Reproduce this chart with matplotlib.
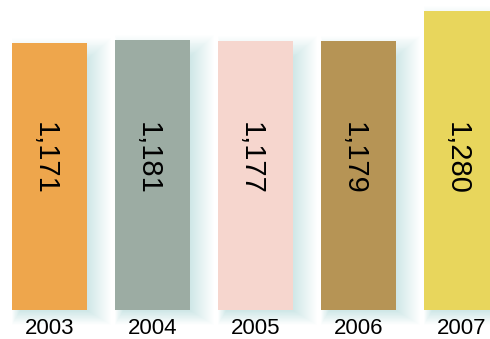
import matplotlib
matplotlib.use("Agg")
import matplotlib.pyplot as plt
from matplotlib.patches import Rectangle
import numpy as np

years = ["2003", "2004", "2005", "2006", "2007"]
values = [1171, 1181, 1177, 1179, 1280]
labels = ["1,171", "1,181", "1,177", "1,179", "1,280"]
colors = ["#EEA64C", "#9CACA3", "#F6D6CE", "#B69455", "#E8D65C"]

plt.rcParams['font.family'] = ['Liberation Sans', 'DejaVu Sans']

W, H = 490, 339
fig = plt.figure(figsize=(W / 100, H / 100), dpi=100)
ax = fig.add_axes([0, 29 / H, 1, 310 / H])

scale = 0.293  # px per unit
ytop = 1280 + 11 / scale
ybot = ytop - 310 / scale
ax.set_ylim(ybot, ytop)
ax.set_xlim(-49.5 / 103, (490 - 49.5) / 103)

x = np.arange(len(values))
width = 75 / 103
vals = np.array(values, dtype=float)

# pixel -> data conversions
pxx = 1 / 103
pxy = 1 / scale

# soft shadow (offset right/down, blurred)
n_layers = 24
for xi, v in zip(x, vals):
    for k in range(n_layers):
        left = xi - width / 2 + (8 - k * 0.35) * pxx
        right = xi + width / 2 + (1 + k) * pxx
        top = v - (16 - k * 0.9) * pxy
        bottom = ybot - (1 + k * 0.6) * pxy
        r = Rectangle((left, bottom), right - left, top - bottom,
                      facecolor="#9fd6d0", edgecolor="none", alpha=0.02,
                      zorder=1, clip_on=False)
        ax.add_patch(r)

bars = ax.bar(x, vals - ybot, bottom=ybot, width=width, color=colors, zorder=3)

for xi, lab in zip(x, labels):
    ax.text(xi - 0.05, 0.49, lab, rotation=-90, ha="center", va="center",
            fontsize=21, color="black", zorder=4,
            transform=ax.get_xaxis_transform())

ax.set_xticks(x)
ax.set_xticklabels(years, fontsize=16)
ax.tick_params(axis="x", length=0, pad=6)
ax.set_yticks([])
for s in ax.spines.values():
    s.set_visible(False)

fig.savefig("out.png", dpi=100)
